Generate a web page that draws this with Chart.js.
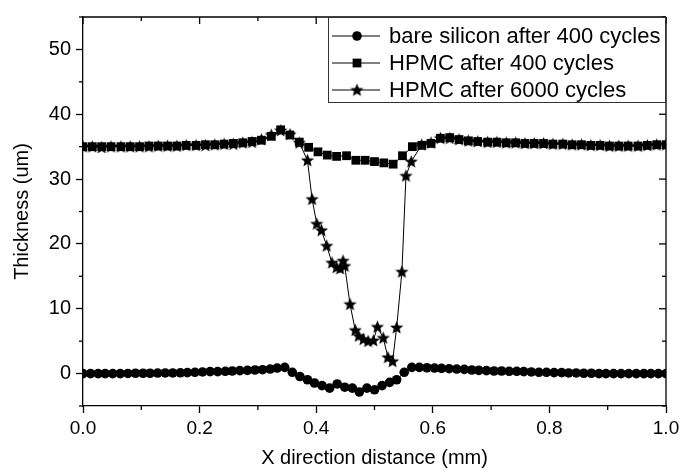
<!DOCTYPE html>
<html>
<head>
<meta charset="utf-8">
<script src="https://cdn.jsdelivr.net/npm/chart.js@4.4.0/dist/chart.umd.min.js"></script>
<style>
  html, body { margin: 0; padding: 0; background: #fff; }
  #wrap { width: 686px; height: 470px; }
</style>
</head>
<body>
<div id="wrap"><canvas id="chart" width="686" height="470"></canvas></div>
<script>
// Data
const seriesNames = ['bare silicon after 400 cycles', 'HPMC after 400 cycles', 'HPMC after 6000 cycles'];

const siliconX = [0, 0.013, 0.026, 0.038, 0.051, 0.064, 0.077, 0.090, 0.103, 0.115,
    0.128, 0.141, 0.154, 0.167, 0.179, 0.192, 0.205, 0.218, 0.231, 0.244,
    0.256, 0.269, 0.282, 0.295, 0.308, 0.321, 0.333, 0.346, 0.359, 0.372,
    0.385, 0.397, 0.410, 0.423, 0.436, 0.449, 0.462, 0.474, 0.487, 0.500,
    0.513, 0.526, 0.538, 0.551, 0.564, 0.577, 0.590, 0.603, 0.615, 0.628,
    0.641, 0.654, 0.667, 0.679, 0.692, 0.705, 0.718, 0.731, 0.744, 0.756,
    0.769, 0.782, 0.795, 0.808, 0.821, 0.833, 0.846, 0.859, 0.872, 0.885,
    0.897, 0.910, 0.923, 0.936, 0.949, 0.962, 0.974, 0.987, 1.000];
const siliconY = [0, 0, 0, 0, 0, 0, 0.02, 0.05, 0.05, 0.05,
    0.08, 0.1, 0.1, 0.12, 0.15, 0.2, 0.25, 0.3, 0.3, 0.35,
    0.4, 0.45, 0.5, 0.55, 0.6, 0.7, 0.85, 0.95, 0.2, -0.45,
    -0.95, -1.45, -1.85, -2.25, -1.6, -2.1, -2.25, -2.85, -2.25, -2.5,
    -1.85, -1.35, -0.95, 0.2, 0.95, 0.95, 0.9, 0.85, 0.8, 0.75,
    0.7, 0.65, 0.55, 0.5, 0.45, 0.4, 0.4, 0.35, 0.35, 0.3,
    0.25, 0.2, 0.2, 0.15, 0.15, 0.1, 0.1, 0.05, 0.05, 0,
    0, 0, 0, 0, 0, 0, 0, 0, 0];

const hpmc400X = [0, 0.016, 0.032, 0.048, 0.065, 0.081, 0.097, 0.113, 0.129, 0.145,
    0.161, 0.177, 0.194, 0.210, 0.226, 0.242, 0.258, 0.274, 0.290, 0.306,
    0.323, 0.339, 0.355, 0.371, 0.387, 0.403, 0.419, 0.435, 0.452, 0.468,
    0.484, 0.500, 0.516, 0.532, 0.548, 0.565, 0.581, 0.597, 0.613, 0.629,
    0.645, 0.661, 0.677, 0.694, 0.710, 0.726, 0.742, 0.758, 0.774, 0.790,
    0.806, 0.823, 0.839, 0.855, 0.871, 0.887, 0.903, 0.919, 0.935, 0.952,
    0.968, 0.984, 1.000];
const hpmc400Y = [35.0, 35.0, 35.0, 35.0, 35.0, 35.0, 35.0, 35.1, 35.1, 35.1,
    35.1, 35.2, 35.2, 35.3, 35.3, 35.4, 35.5, 35.6, 35.8, 36.0,
    36.6, 37.6, 36.8, 35.7, 34.9, 34.2, 33.7, 33.5, 33.6, 32.9,
    32.9, 32.7, 32.5, 32.3, 33.6, 35.0, 35.2, 35.5, 36.3, 36.4,
    36.1, 35.9, 35.8, 35.7, 35.7, 35.6, 35.6, 35.5, 35.5, 35.5,
    35.4, 35.4, 35.3, 35.3, 35.2, 35.2, 35.1, 35.1, 35.1, 35.1,
    35.2, 35.3, 35.3];

const hpmc6000X = [0, 0.016, 0.032, 0.048, 0.065, 0.081, 0.097, 0.113, 0.129, 0.145,
    0.161, 0.177, 0.194, 0.210, 0.226, 0.242, 0.258, 0.274, 0.290, 0.306,
    0.323, 0.339, 0.355, 0.371,
    0.385, 0.393, 0.401, 0.409, 0.418, 0.427, 0.435, 0.441, 0.446, 0.449,
    0.458, 0.467, 0.473, 0.481, 0.489, 0.498, 0.505, 0.515, 0.523, 0.531,
    0.538, 0.547, 0.554, 0.563,
    0.581, 0.597, 0.613, 0.629, 0.645, 0.661, 0.677, 0.694, 0.710, 0.726,
    0.742, 0.758, 0.774, 0.790, 0.806, 0.823, 0.839, 0.855, 0.871, 0.887,
    0.903, 0.919, 0.935, 0.952, 0.968, 0.984, 1.000];
const hpmc6000Y = [35.0, 35.0, 34.9, 35.0, 35.0, 35.0, 35.0, 35.0, 35.1, 35.1,
    35.1, 35.2, 35.2, 35.2, 35.3, 35.4, 35.4, 35.6, 35.7, 36.1,
    36.8, 37.5, 36.9, 35.6,
    32.9, 26.9, 23.1, 22.1, 19.7, 17.1, 16.4, 16.2, 17.4, 16.6,
    10.7, 6.7, 5.8, 5.3, 5.0, 5.1, 7.2, 5.5, 2.5, 1.9,
    7.1, 15.7, 30.5, 32.7,
    35.3, 35.6, 36.3, 36.3, 36.1, 35.9, 35.8, 35.7, 35.7, 35.6,
    35.6, 35.5, 35.5, 35.5, 35.4, 35.4, 35.3, 35.3, 35.2, 35.2,
    35.1, 35.1, 35.1, 35.1, 35.2, 35.3, 35.3];

const xMinorTicks = [0.1, 0.3, 0.5, 0.7, 0.9];
const xMajorTicks = [0, 0.2, 0.4, 0.6, 0.8, 1.0];
const yMinorTicks = [-5, 5, 15, 25, 35, 45, 55];
const yMajorTicks = [0, 10, 20, 30, 40, 50];

const toPoints = (xs, ys) => xs.map((x, i) => ({ x: x, y: ys[i] }));

// filled five point star for the 6000 cycle series
const starImg = document.createElement('canvas');
starImg.width = 15;
starImg.height = 15;
(function () {
    const c = starImg.getContext('2d');
    c.fillStyle = '#000';
    c.beginPath();
    for (let k = 0; k < 10; k++) {
        const r = k % 2 === 0 ? 7 : 3.1;
        const a = -Math.PI / 2 + k * Math.PI / 5;
        const px = 7.5 + r * Math.cos(a), py = 7.9 + r * Math.sin(a);
        if (k === 0) c.moveTo(px, py); else c.lineTo(px, py);
    }
    c.closePath();
    c.fill();
})();

const markerStyles = ['circle', 'rect', starImg];
const markerRadius = [4.8, 6.2, 7];
const FONT = '"Liberation Sans", Arial, sans-serif';

function drawMarker(ctx, i, x, y) {
    ctx.fillStyle = '#000';
    if (i === 0) {
        ctx.beginPath();
        ctx.arc(x, y, markerRadius[0], 0, Math.PI * 2);
        ctx.fill();
    } else if (i === 1) {
        const s = markerRadius[1] * Math.SQRT1_2;
        ctx.fillRect(x - s, y - s, 2 * s, 2 * s);
    } else {
        ctx.drawImage(starImg, x - starImg.width / 2, y - starImg.height / 2);
    }
}

const framePlugin = {
    id: 'frame',
    afterDraw(chart) {
        const { ctx, chartArea: a, scales } = chart;
        const xs = scales.x, ys = scales.y;
        ctx.save();
        ctx.strokeStyle = '#000';
        ctx.lineWidth = 1.3;
        const line = (x1, y1, x2, y2) => {
            ctx.beginPath(); ctx.moveTo(x1, y1); ctx.lineTo(x2, y2); ctx.stroke();
        };
        // top and right of the box
        line(a.left, a.top, a.right, a.top);
        line(a.right, a.top, a.right, a.bottom);

        yMinorTicks.forEach(v => {
            const p = ys.getPixelForValue(v);
            line(a.left - 4, p, a.left, p);
            line(a.right, p, a.right - 4, p);
        });
        yMajorTicks.forEach(v => {
            const p = ys.getPixelForValue(v);
            line(a.right, p, a.right - 7, p);
        });
        xMinorTicks.forEach(v => {
            const p = xs.getPixelForValue(v);
            line(p, a.bottom, p, a.bottom + 4);
            line(p, a.top, p, a.top + 4);
        });
        xMajorTicks.forEach(v => {
            const p = xs.getPixelForValue(v);
            line(p, a.top, p, a.top + 7);
        });

        // legend box in the top right corner
        const w = 338, h = 85;
        const lx = a.right - w, ly = a.top;
        ctx.fillStyle = '#fff';
        ctx.fillRect(lx, ly, w, h);
        ctx.lineWidth = 1;
        ctx.strokeStyle = '#333';
        ctx.strokeRect(lx + 0.5, ly + 0.5, w - 1, h);
        ctx.strokeStyle = '#000';
        ctx.font = '22px ' + FONT;
        ctx.textBaseline = 'middle';
        ctx.textAlign = 'left';
        seriesNames.forEach((name, i) => {
            const cy = ly + 19 + 27 * i;
            line(lx + 4, cy, lx + 52, cy);
            drawMarker(ctx, i, lx + 29, cy);
            ctx.fillStyle = '#000';
            ctx.fillText(name, lx + 61, cy + 1);
        });
        ctx.restore();
    }
};

const dsCommon = {
    showLine: true,
    borderColor: '#000',
    backgroundColor: '#000',
    borderWidth: 1,
    pointBorderWidth: 0,
    tension: 0
};

const ctx = document.getElementById('chart').getContext('2d');
const chart = new Chart(ctx, {
    type: 'scatter',
    data: {
        datasets: [
            Object.assign({}, dsCommon, {
                label: seriesNames[0],
                data: toPoints(siliconX, siliconY),
                pointStyle: markerStyles[0],
                pointRadius: markerRadius[0]
            }),
            Object.assign({}, dsCommon, {
                label: seriesNames[1],
                data: toPoints(hpmc400X, hpmc400Y),
                pointStyle: markerStyles[1],
                pointRadius: markerRadius[1]
            }),
            Object.assign({}, dsCommon, {
                label: seriesNames[2],
                data: toPoints(hpmc6000X, hpmc6000Y),
                pointStyle: markerStyles[2],
                pointRadius: markerRadius[2]
            })
        ]
    },
    options: {
        responsive: false,
        animation: false,
        devicePixelRatio: 1,
        layout: { padding: { left: 0, right: 20, top: 14, bottom: 0 } },
        plugins: {
            legend: { display: false },
            tooltip: { enabled: false }
        },
        scales: {
            x: {
                type: 'linear',
                min: 0,
                max: 1,
                afterFit: s => { s.height = 64; },
                border: { color: '#000', width: 1.3 },
                grid: { drawOnChartArea: false, tickLength: 7, tickColor: '#000', tickWidth: 1.3 },
                ticks: {
                    stepSize: 0.2,
                    color: '#000',
                    padding: 4,
                    font: { family: FONT, size: 19 },
                    callback: v => v.toFixed(1)
                },
                title: {
                    display: true,
                    text: 'X direction distance (mm)',
                    color: '#000',
                    font: { family: FONT, size: 20 },
                    padding: { top: 0, bottom: 0 }
                }
            },
            y: {
                type: 'linear',
                min: -5,
                max: 55,
                afterFit: s => { s.width = 83; },
                border: { color: '#000', width: 1.3 },
                grid: {
                    drawOnChartArea: false,
                    tickLength: 7,
                    tickWidth: 1.3,
                    tickColor: c => (c.tick && c.tick.value % 10 === 0) ? '#000' : 'rgba(0,0,0,0)'
                },
                ticks: {
                    stepSize: 5,
                    autoSkip: false,
                    color: '#000',
                    padding: 5,
                    font: { family: FONT, size: 20 },
                    callback: v => (v % 10 === 0 ? v : '')
                },
                title: {
                    display: true,
                    text: 'Thickness (um)',
                    color: '#000',
                    font: { family: FONT, size: 20 },
                    padding: { top: 10, bottom: 0 }
                }
            }
        }
    },
    plugins: [framePlugin]
});
</script>
</body>
</html>
